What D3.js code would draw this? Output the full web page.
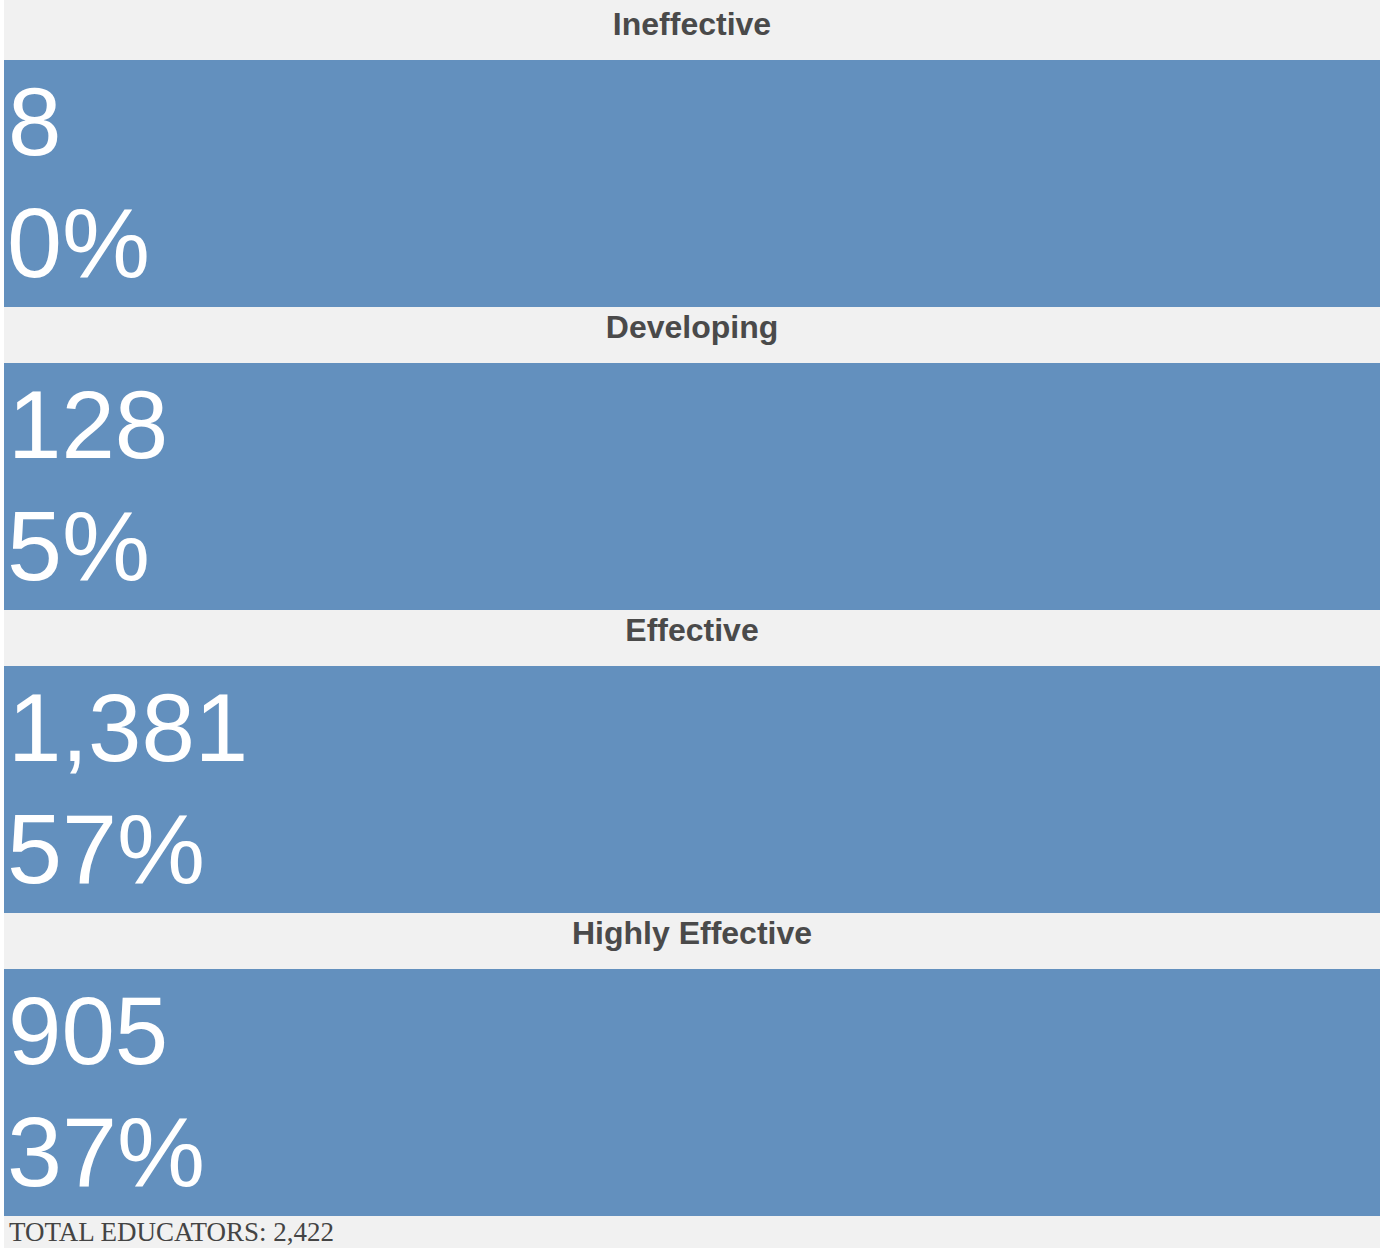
<!DOCTYPE html>
<html>
<head>
<meta charset="utf-8">
<script src="https://cdn.jsdelivr.net/npm/d3@7"></script>
<style>
  html, body { margin: 0; padding: 0; background: #fff; }
</style>
</head>
<body>
<svg id="chart"></svg>
<script>
// === Data ===
const categories = ["Ineffective", "Developing", "Effective", "Highly Effective"];
const counts = [8, 128, 1381, 905];
const percents = ["0%", "5%", "57%", "37%"];
const totalEducators = 2422;

const W = 1384, H = 1248;
const svg = d3.select("#chart").attr("width", W).attr("height", H);

const left = 4, right = 1380;
const headerH = 56;

// one band per rating: header strip + blue panel
const y = d3.scaleBand().domain(categories).range([4, 1216]).padding(0);

svg.append("rect").attr("x", left).attr("y", 0)
  .attr("width", right - left).attr("height", H).attr("fill", "#f1f1f1");

const fmt = d3.format(",");

const g = svg.selectAll(".panel").data(categories).enter().append("g")
  .attr("class", "panel")
  .attr("transform", d => `translate(0,${y(d)})`);

g.append("text")
  .attr("x", (left + right) / 2).attr("y", 31)
  .attr("text-anchor", "middle")
  .style("font-family", "Arial, 'Liberation Sans', sans-serif")
  .style("font-weight", "bold").style("font-size", "32px")
  .attr("fill", "#4a4a4a")
  .text(d => d);

g.append("rect")
  .attr("x", left).attr("y", headerH)
  .attr("width", right - left).attr("height", y.bandwidth() - headerH)
  .attr("fill", "#6390be");

g.append("text")
  .attr("x", 8).attr("y", headerH + 95)
  .style("font-family", "Arial, 'Liberation Sans', sans-serif")
  .style("font-size", "96px").attr("fill", "#fff")
  .text((d, i) => fmt(counts[i]));

g.append("text")
  .attr("x", 7).attr("y", headerH + 217)
  .style("font-family", "Arial, 'Liberation Sans', sans-serif")
  .style("font-size", "99px").attr("fill", "#fff")
  .text((d, i) => percents[i]);

svg.append("text")
  .attr("x", 9).attr("y", 1241)
  .style("font-family", "'Times New Roman', 'Liberation Serif', serif")
  .style("font-size", "27px").attr("fill", "#444")
  .text("TOTAL EDUCATORS: " + fmt(totalEducators));
</script>
</body>
</html>
